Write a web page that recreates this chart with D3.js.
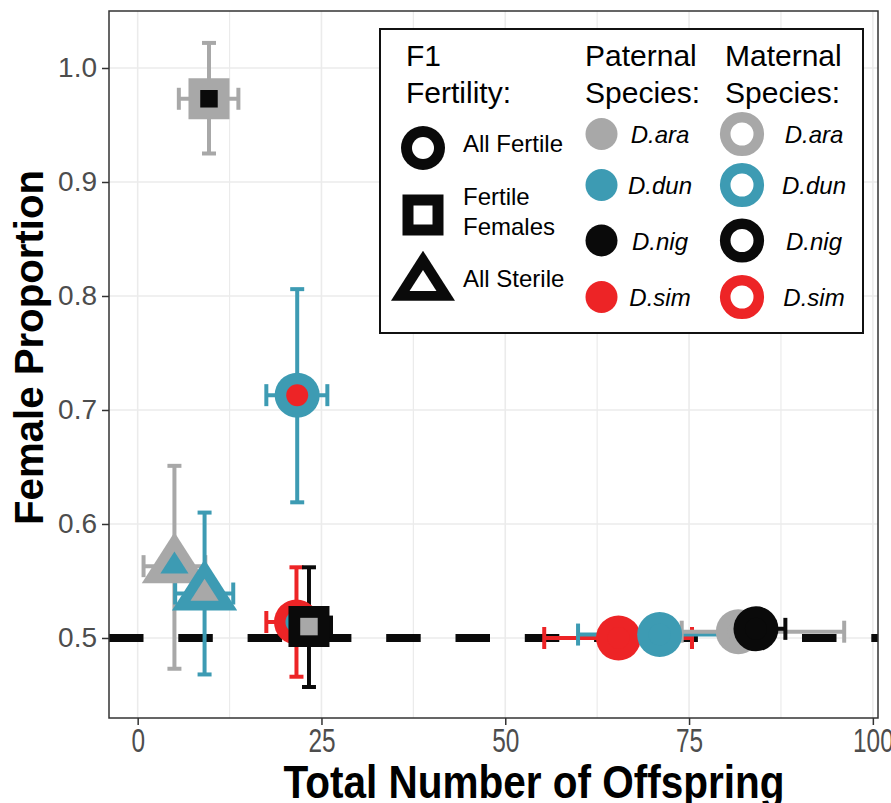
<!DOCTYPE html>
<html>
<head>
<meta charset="utf-8">
<script src="https://cdn.jsdelivr.net/npm/d3@7"></script>
<style>
body { margin: 0; background: #fff; }
text { font-family: "Liberation Sans", Arial, sans-serif; }
</style>
</head>
<body>
<svg id="chart" width="891" height="803"></svg>
<script>
// values, one entry per cross
var offspring   = [9.7, 21.7, 5.0, 9.1, 21.6, 23.3, 65.4, 71.0, 81.7, 84.1];
var offspringLo = [5.6, 17.5, 0.8, 5.1, 17.5, 21.0, 55.3, 59.9, 74.0, 80.0];
var offspringHi = [13.7, 25.8, 9.2, 13.0, 25.0, 26.3, 75.4, 80.0, 96.1, 88.1];
var femaleProp  = [0.973, 0.713, 0.563, 0.539, 0.514, 0.510, 0.500, 0.503, 0.5055, 0.508];
var femaleLo    = [0.925, 0.619, 0.473, 0.468, 0.466, 0.457, 0.497, 0.499, 0.502, 0.504];
var femaleHi    = [1.022, 0.806, 0.651, 0.610, 0.562, 0.562, 0.503, 0.507, 0.509, 0.512];
var fertility   = ["Fertile Females", "All Fertile", "All Sterile", "All Sterile", "All Fertile",
                   "Fertile Females", "All Fertile", "All Fertile", "All Fertile", "All Fertile"];
var paternal    = ["D.nig", "D.sim", "D.dun", "D.ara", "D.dun", "D.ara", "D.sim", "D.dun", "D.ara", "D.nig"];
var maternal    = ["D.ara", "D.dun", "D.ara", "D.dun", "D.sim", "D.nig", "D.sim", "D.dun", "D.ara", "D.nig"];

var species = ["D.ara", "D.dun", "D.nig", "D.sim"];
var speciesColors = ["#a8a8a8", "#3d9bb3", "#0a0a0a", "#ed2426"];
var fertilityLevels = ["All Fertile", "Fertile Females", "All Sterile"];
var xTicks = [0, 25, 50, 75, 100];
var xMinor = [12.5, 37.5, 62.5, 87.5];
var yTicks = [0.5, 0.6, 0.7, 0.8, 0.9, 1.0];
var hlineY = 0.5;

var panel = {left: 109, right: 878, top: 11, bottom: 718};

var svg = d3.select("#chart");

var x = d3.scaleLinear()
    .domain([-3.9, 100.7])
    .range([panel.left, panel.right]);

var y = d3.scaleLinear()
    .domain([0.4298, 1.0500])
    .range([panel.bottom, panel.top]);

var color = d3.scaleOrdinal(species, speciesColors);

// ggplot's stroked triangle comes out a bit wider than equilateral
var wideTriangle = {
    draw: function(context, size) {
        var h = Math.sqrt(size);
        context.moveTo(0, -h * 2 / 3);
        context.lineTo(h * 0.64, h / 3);
        context.lineTo(-h * 0.64, h / 3);
        context.closePath();
    }
};

// symbol type + outer/inner sizes for each fertility class
var shapeType = d3.scaleOrdinal(fertilityLevels, [d3.symbolCircle, d3.symbolSquare, wideTriangle]);
var outerSize = d3.scaleOrdinal(fertilityLevels, [Math.PI * 22.5 * 22.5, 41 * 41, 51 * 51]);
var innerSize = d3.scaleOrdinal(fertilityLevels, [Math.PI * 11 * 11, 17.5 * 17.5, 22 * 22]);

var pts = offspring.map(function(d, i) {
    return {x: d, xlo: offspringLo[i], xhi: offspringHi[i],
            y: femaleProp[i], ylo: femaleLo[i], yhi: femaleHi[i],
            fert: fertility[i], pat: paternal[i], mat: maternal[i]};
});

// grid
var grid = svg.append("g").attr("class", "grid");
grid.selectAll(".minorx").data(xMinor).enter().append("line")
    .attr("x1", x).attr("x2", x)
    .attr("y1", panel.top).attr("y2", panel.bottom)
    .attr("stroke", "#ebebeb").attr("stroke-width", 1.2);
grid.selectAll(".majorx").data(xTicks).enter().append("line")
    .attr("x1", x).attr("x2", x)
    .attr("y1", panel.top).attr("y2", panel.bottom)
    .attr("stroke", "#ebebeb").attr("stroke-width", 1.6);
grid.selectAll(".majory").data(yTicks).enter().append("line")
    .attr("y1", y).attr("y2", y)
    .attr("x1", panel.left).attr("x2", panel.right)
    .attr("stroke", "#ebebeb").attr("stroke-width", 1.6);

// dashed reference line
svg.append("line")
    .attr("x1", panel.left).attr("x2", panel.right)
    .attr("y1", y(hlineY)).attr("y2", y(hlineY))
    .attr("stroke", "#0a0a0a").attr("stroke-width", 8)
    .attr("stroke-dasharray", "34.5,34.8");

// error bars
var bars = svg.append("g").attr("class", "errorbars");
pts.forEach(function(d) {
    var c = color(d.mat);
    var g = bars.append("g").attr("stroke", c).attr("stroke-width", 4).attr("fill", "none");
    g.append("line").attr("x1", x(d.x)).attr("x2", x(d.x)).attr("y1", y(d.ylo)).attr("y2", y(d.yhi));
    g.append("line").attr("x1", x(d.x) - 7).attr("x2", x(d.x) + 7).attr("y1", y(d.ylo)).attr("y2", y(d.ylo));
    g.append("line").attr("x1", x(d.x) - 7).attr("x2", x(d.x) + 7).attr("y1", y(d.yhi)).attr("y2", y(d.yhi));
    g.append("line").attr("x1", x(d.xlo)).attr("x2", x(d.xhi)).attr("y1", y(d.y)).attr("y2", y(d.y));
    g.append("line").attr("x1", x(d.xlo)).attr("x2", x(d.xlo)).attr("y1", y(d.y) - 11).attr("y2", y(d.y) + 11);
    g.append("line").attr("x1", x(d.xhi)).attr("x2", x(d.xhi)).attr("y1", y(d.y) - 11).attr("y2", y(d.y) + 11);
});

// points: outer = maternal colour, inner = paternal colour
var marks = svg.append("g").attr("class", "points");
pts.forEach(function(d) {
    var g = marks.append("g").attr("transform", "translate(" + x(d.x) + "," + y(d.y) + ")");
    g.append("path")
        .attr("d", d3.symbol().type(shapeType(d.fert)).size(outerSize(d.fert)))
        .attr("fill", color(d.mat));
    g.append("path")
        .attr("d", d3.symbol().type(shapeType(d.fert)).size(innerSize(d.fert)))
        .attr("fill", color(d.pat));
});

// panel border
svg.append("rect")
    .attr("x", panel.left).attr("y", panel.top)
    .attr("width", panel.right - panel.left).attr("height", panel.bottom - panel.top)
    .attr("fill", "none").attr("stroke", "#333").attr("stroke-width", 1.5);

// axes
var yAxis = svg.append("g")
    .attr("transform", "translate(" + panel.left + ",0)")
    .call(d3.axisLeft(y).tickValues(yTicks).tickFormat(d3.format(".1f")).tickSize(7).tickPadding(5));
yAxis.select(".domain").remove();
yAxis.selectAll("line").attr("stroke", "#333").attr("stroke-width", 1.5);
yAxis.selectAll("text").attr("font-size", 28).attr("fill", "#4d4d4d")
    .style("font-family", "'Liberation Sans', Arial, sans-serif");

var xAxis = svg.append("g")
    .attr("transform", "translate(0," + panel.bottom + ")")
    .call(d3.axisBottom(x).tickValues(xTicks).tickSize(7).tickPadding(4));
xAxis.select(".domain").remove();
xAxis.selectAll("line").attr("stroke", "#333").attr("stroke-width", 1.5);
xAxis.selectAll("text").attr("font-size", 33).attr("fill", "#4d4d4d")
    .attr("transform", "scale(0.74,1)")
    .style("font-family", "'Liberation Sans', Arial, sans-serif");

// axis titles
svg.append("text")
    .attr("x", 534).attr("y", 798)
    .attr("text-anchor", "middle")
    .attr("font-size", 46).attr("font-weight", "bold").attr("fill", "#000")
    .attr("textLength", 501).attr("lengthAdjust", "spacingAndGlyphs")
    .text("Total Number of Offspring");

svg.append("text")
    .attr("transform", "translate(43,347.5) rotate(-90)")
    .attr("text-anchor", "middle")
    .attr("font-size", 41).attr("font-weight", "bold").attr("fill", "#000")
    .attr("textLength", 355).attr("lengthAdjust", "spacingAndGlyphs")
    .text("Female Proportion");

// legend
var lg = svg.append("g").attr("class", "legend");
lg.append("rect")
    .attr("x", 380).attr("y", 29).attr("width", 483).attr("height", 304)
    .attr("fill", "#fff").attr("stroke", "#111").attr("stroke-width", 2);

function title(tx, ty, lines) {
    lines.forEach(function(t, i) {
        lg.append("text").attr("x", tx).attr("y", ty + i * 37)
            .attr("font-size", 30).attr("fill", "#000").text(t);
    });
}
title(406, 66, ["F1", "Fertility:"]);
title(585, 66, ["Paternal", "Species:"]);
title(725, 66, ["Maternal", "Species:"]);

var shapeRows = [148, 215, 284];
var shapeLabels = [["All Fertile"], ["Fertile", "Females"], ["All Sterile"]];
var shapeLabelY = [[152], [205, 235], [287]];
var keyOuter = d3.scaleOrdinal(fertilityLevels, [Math.PI * 22 * 22, 41 * 41, 50 * 50]);
var keyInner = d3.scaleOrdinal(fertilityLevels, [Math.PI * 11 * 11, 19 * 19, 21 * 21]);
fertilityLevels.forEach(function(f, i) {
    var g = lg.append("g").attr("transform", "translate(423," + shapeRows[i] + ")");
    g.append("path").attr("d", d3.symbol().type(shapeType(f)).size(keyOuter(f))).attr("fill", "#0a0a0a");
    g.append("path").attr("d", d3.symbol().type(shapeType(f)).size(keyInner(f))).attr("fill", "#fff");
    shapeLabels[i].forEach(function(t, j) {
        lg.append("text").attr("x", 463).attr("y", shapeLabelY[i][j])
            .attr("font-size", 24).attr("fill", "#000").text(t);
    });
});

var rowY = [134, 185, 240.5, 297];
species.forEach(function(s, i) {
    lg.append("circle").attr("cx", 601.5).attr("cy", rowY[i]).attr("r", 16).attr("fill", color(s));
    lg.append("text").attr("x", 660).attr("y", rowY[i] + 9)
        .attr("text-anchor", "middle").attr("font-size", 24).attr("font-style", "italic")
        .attr("fill", "#000").text(s);
    lg.append("circle").attr("cx", 742).attr("cy", rowY[i]).attr("r", 16.8)
        .attr("fill", "#fff").attr("stroke", color(s)).attr("stroke-width", 10.6);
    lg.append("text").attr("x", 814).attr("y", rowY[i] + 9)
        .attr("text-anchor", "middle").attr("font-size", 24).attr("font-style", "italic")
        .attr("fill", "#000").text(s);
});
</script>
</body>
</html>
